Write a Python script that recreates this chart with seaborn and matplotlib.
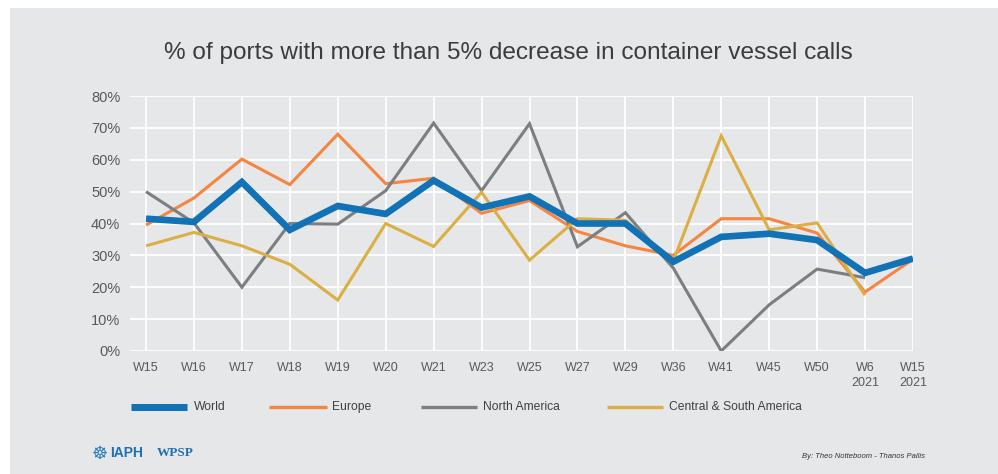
import numpy as np
import pandas as pd
import matplotlib
matplotlib.use("Agg")
import matplotlib.pyplot as plt
from matplotlib.patches import Rectangle
import seaborn as sns

# Weeks and shares of ports (%) with more than 5% fewer container vessel calls
weeks = ["W15", "W16", "W17", "W18", "W19", "W20", "W21", "W23", "W25",
         "W27", "W29", "W36", "W41", "W45", "W50", "W6\n2021", "W15\n2021"]
world = [41.5, 40.5, 53, 38, 45.5, 43, 53.5, 45, 48.5, 40, 40, 28, 35.8, 36.8, 34.8, 24.5, 29]
europe = [39.5, 48, 60.2, 52.2, 68, 52.5, 54.2, 43.2, 47.2, 37.5, 33, 30, 41.5, 41.5, 37, 18.5, 28.8]
north_america = [50, 40.2, 20, 40, 39.8, 50.3, 71.5, 50.3, 71.3, 32.7, 43.4, 26, 0, 14.5, 25.7, 23, np.nan]
central_south_america = [33, 37.2, 33, 27.2, 16, 40, 32.8, 49.8, 28.5, 41.5, 41, 28.2, 67.5, 38, 40.2, 17.5, np.nan]

series = {
    "World": world,
    "Europe": europe,
    "North America": north_america,
    "Central & South America": central_south_america,
}
colors = {
    "World": "#1172b6",
    "Europe": "#f58540",
    "North America": "#7c7f81",
    "Central & South America": "#dcaf45",
}
widths = {"World": 4.8, "Europe": 2.2, "North America": 2.2, "Central & South America": 2.2}

x = np.arange(len(weeks))
df = pd.DataFrame({"x": np.tile(x, len(series)),
                   "region": np.repeat(list(series.keys()), len(weeks)),
                   "value": np.concatenate([np.asarray(v, dtype=float) for v in series.values()])})

sns.set_theme(style="whitegrid")
plt.rcParams["font.family"] = ["Liberation Sans", "DejaVu Sans"]

bg = "#e6e7e9"
fig = plt.figure(figsize=(9.98, 4.74), dpi=100, facecolor="white")
# grey slide panel behind everything
fig.add_artist(Rectangle((10 / 998, 0), 1, 1 - 8 / 474, transform=fig.transFigure,
                         facecolor=bg, edgecolor="none", zorder=-10))

ax = fig.add_axes([130 / 998, 1 - 351 / 474, (913 - 130) / 998, (351 - 96) / 474])
ax.set_facecolor(bg)
ax.set_zorder(1)

# Draw the thin regional lines first, World on top
for name in ["Europe", "North America", "Central & South America", "World"]:
    sub = df[df["region"] == name]
    sns.lineplot(data=sub, x="x", y="value", ax=ax, color=colors[name],
                 linewidth=widths[name], legend=False, sort=False,
                 solid_joinstyle="miter", solid_capstyle="butt", zorder=3)

step = (913 - 146) / 16
ax.set_xlim(-(146 - 130) / step, 16)
ax.set_ylim(0, 80)
ax.set_xticks(x)
ax.set_xticklabels(weeks)
ax.set_yticks(np.arange(0, 81, 10))
ax.set_yticklabels([f"{v}%" for v in range(0, 81, 10)])
ax.set_xlabel("")
ax.set_ylabel("")
ax.grid(True, color="white", linewidth=1.3)
for s in ax.spines.values():
    s.set_visible(False)
ax.tick_params(axis="both", length=0, colors="#595959")
ax.tick_params(axis="x", pad=8, labelsize=9)
ax.tick_params(axis="y", pad=7, labelsize=10.5)
for lab in ax.get_xticklabels():
    lab.set_linespacing(1.35)
    lab.set_verticalalignment("top")

fig.text(508 / 998, 1 - 53 / 474, "% of ports with more than 5% decrease in container vessel calls",
         ha="center", va="center", fontsize=17.6, color="#3c3c3c")

# Legend drawn as line samples with labels
legend_items = [("World", 131, 187, 194), ("Europe", 269, 327, 332),
                ("North America", 421, 477, 483), ("Central & South America", 607, 663, 669)]
ly = 1 - 407 / 474
for name, x0, x1, tx in legend_items:
    fig.add_artist(plt.Line2D([x0 / 998, x1 / 998], [ly, ly], transform=fig.transFigure,
                              color=colors[name], linewidth=widths[name] * (1.05 if name == "World" else 1.1),
                              solid_capstyle="butt"))
    fig.text(tx / 998, ly, name, ha="left", va="center", fontsize=8.7, color="#404040")

# Organisation marks and credit
fig.text(100 / 998, 1 - 454 / 474, "\u2638", ha="center", va="center", fontsize=13,
         color="#2a7fb8", family=["DejaVu Sans"])
fig.text(110 / 998, 1 - 453 / 474, "IAPH", ha="left", va="center", fontsize=10,
         color="#1f6fb3", fontweight="bold")
fig.text(157 / 998, 1 - 453 / 474, "WPSP", ha="left", va="center", fontsize=9.5,
         color="#1f6fb3", fontweight="bold", family=["Liberation Serif", "DejaVu Serif"])
fig.text(925 / 998, 1 - 457 / 474, "By: Theo Notteboom - Thanos Pallis", ha="right", va="center",
         fontsize=5.5, color="#333333", style="italic")

fig.savefig("out.png", dpi=100, facecolor="white")
